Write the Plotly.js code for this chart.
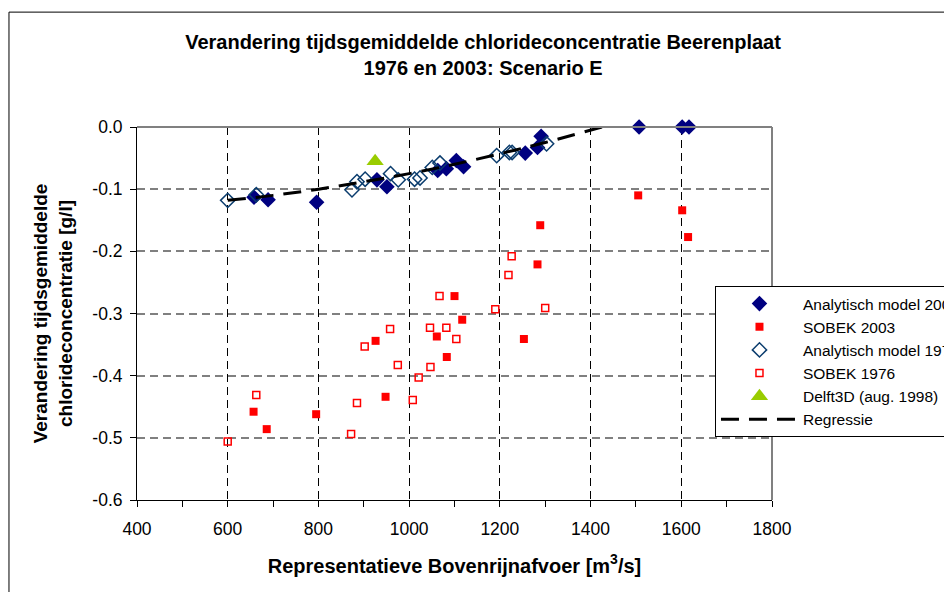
<!DOCTYPE html>
<html>
<head>
<meta charset="utf-8">
<script src="https://cdn.plot.ly/plotly-3.0.1.min.js"></script>
<style>
  html, body { margin: 0; padding: 0; background: #ffffff; }
  #chart { width: 944px; height: 592px; }
</style>
</head>
<body>
<div id="chart"></div>
<script>
// Representatieve Bovenrijnafvoer [m3/s] (x) and change in mean chloride concentration [g/l] (y)
const qAnalytisch2003 = [658, 689, 796, 929, 951, 1063, 1082, 1104, 1120, 1256, 1283, 1291, 1507, 1602, 1617];
const dAnalytisch2003 = [-0.113, -0.117, -0.121, -0.085, -0.096, -0.070, -0.067, -0.054, -0.064, -0.042, -0.033, -0.015, 0, 0, 0];

const qSobek2003 = [657, 686, 795, 926, 948, 1061, 1083, 1100, 1117, 1253, 1283, 1289, 1505, 1602, 1615];
const dSobek2003 = [-0.458, -0.486, -0.462, -0.344, -0.434, -0.337, -0.370, -0.272, -0.310, -0.341, -0.221, -0.158, -0.110, -0.134, -0.177];

const qAnalytisch1976 = [600, 663, 874, 885, 903, 959, 976, 1012, 1024, 1051, 1068, 1193, 1221, 1227, 1303];
const dAnalytisch1976 = [-0.118, -0.109, -0.101, -0.088, -0.084, -0.075, -0.085, -0.084, -0.082, -0.065, -0.058, -0.046, -0.041, -0.041, -0.027];

const qSobek1976 = [600, 663, 872, 885, 902, 958, 975, 1008, 1021, 1046, 1047, 1067, 1082, 1104, 1190, 1219, 1226, 1300];
const dSobek1976 = [-0.506, -0.431, -0.494, -0.444, -0.353, -0.325, -0.383, -0.439, -0.403, -0.323, -0.386, -0.272, -0.323, -0.341, -0.293, -0.238, -0.208, -0.291];

const qDelft3D = [925];
const dDelft3D = [-0.055];

const qRegressie = [600, 700, 800, 900, 1000, 1100, 1200, 1300, 1425];
const dRegressie = [-0.118, -0.110, -0.100, -0.088, -0.075, -0.060, -0.043, -0.025, 0];

const xTickVals = [400, 600, 800, 1000, 1200, 1400, 1600, 1800];
const xTickText = ['400', '600', '800', '1000', '1200', '1400', '1600', '1800'];
const yTickVals = [0, -0.1, -0.2, -0.3, -0.4, -0.5, -0.6];
const yTickText = ['0.0', '-0.1', '-0.2', '-0.3', '-0.4', '-0.5', '-0.6'];

const FONT = 'Liberation Sans, Arial, sans-serif';

const traces = [
  {
    name: 'Analytisch model 2003', x: qAnalytisch2003, y: dAnalytisch2003,
    type: 'scatter', mode: 'markers', cliponaxis: false,
    marker: { symbol: 'diamond', size: 12, color: '#000080', line: { width: 0 } }
  },
  {
    name: 'SOBEK 2003', x: qSobek2003, y: dSobek2003,
    type: 'scatter', mode: 'markers', cliponaxis: false,
    marker: { symbol: 'square', size: 8, color: '#ff0000', line: { width: 0 } }
  },
  {
    name: 'Analytisch model 1976', x: qAnalytisch1976, y: dAnalytisch1976,
    type: 'scatter', mode: 'markers', cliponaxis: false,
    marker: { symbol: 'diamond-open', size: 11, color: '#0b3d6e', line: { width: 1.5, color: '#0b3d6e' } }
  },
  {
    name: 'SOBEK 1976', x: qSobek1976, y: dSobek1976,
    type: 'scatter', mode: 'markers', cliponaxis: false,
    marker: { symbol: 'square-open', size: 7, color: '#ff0000', line: { width: 1.5, color: '#ff0000' } }
  },
  {
    name: 'Delft3D (aug. 1998)', x: qDelft3D, y: dDelft3D,
    type: 'scatter', mode: 'markers', cliponaxis: false,
    marker: { symbol: 'triangle-up', size: 15, color: '#99cc00', line: { width: 0 } }
  },
  {
    name: 'Regressie', x: qRegressie, y: dRegressie,
    type: 'scatter', mode: 'lines',
    line: { color: '#000000', width: 3, dash: '18px,10px', shape: 'spline' }
  }
];

const layout = {
  width: 944, height: 592,
  paper_bgcolor: '#ffffff', plot_bgcolor: '#ffffff',
  margin: { l: 137, r: 172, t: 127, b: 92, autoexpand: false },
  font: { family: FONT, color: '#000000' },
  title: {
    text: 'Verandering tijdsgemiddelde chlorideconcentratie Beerenplaat<br>1976 en 2003: Scenario E',
    font: { family: FONT, size: 20, weight: 'bold', color: '#000000' },
    xref: 'container', x: 0.5117, xanchor: 'center',
    yref: 'container', y: 0.9172, yanchor: 'top'
  },
  xaxis: {
    range: [400, 1800],
    tickmode: 'array', tickvals: xTickVals, ticktext: xTickText,
    ticks: 'outside', ticklen: 6, tickcolor: '#000000', tickwidth: 1,
    ticklabelstandoff: 7,
    minor: { tickmode: 'linear', tick0: 400, dtick: 100, ticks: 'outside', ticklen: 6, tickcolor: '#000000', showgrid: false },
    tickfont: { family: FONT, size: 17.5, color: '#000000' },
    showline: true, linecolor: '#000000', linewidth: 1,
    showgrid: true, gridcolor: '#000000', gridwidth: 1, griddash: '8px,5px',
    zeroline: false,
    title: {
      text: 'Representatieve Bovenrijnafvoer [m<sup>3</sup>/s]',
      font: { family: FONT, size: 20, weight: 'bold', color: '#000000' },
      standoff: 20
    }
  },
  yaxis: {
    range: [-0.6, 0],
    tickmode: 'array', tickvals: yTickVals, ticktext: yTickText,
    ticks: 'outside', ticklen: 6, tickcolor: '#000000', tickwidth: 1,
    ticklabelstandoff: 4,
    tickfont: { family: FONT, size: 17.5, color: '#000000' },
    showline: true, linecolor: '#000000', linewidth: 1,
    showgrid: true, gridcolor: '#808080', gridwidth: 2, griddash: '8px,5px',
    zeroline: false,
    title: {
      text: 'Verandering tijdsgemiddelde<br>chlorideconcentratie [g/l]',
      font: { family: FONT, size: 19, weight: 'bold', color: '#000000' },
      standoff: 14
    }
  },
  legend: {
    x: 0.9102, xanchor: 'left', y: 0.5737, yanchor: 'top',
    bgcolor: '#ffffff', bordercolor: '#000000', borderwidth: 1,
    font: { family: FONT, size: 15.5, color: '#000000' },
    itemwidth: 77, tracegroupgap: 0
  },
  shapes: [
    // plot-area frame on the top and right sides
    { type: 'line', xref: 'paper', yref: 'paper', x0: 0, x1: 1, y0: 1, y1: 1, line: { color: '#808080', width: 2 }, layer: 'above' },
    { type: 'line', xref: 'paper', yref: 'paper', x0: 1, x1: 1, y0: 0, y1: 1, line: { color: '#808080', width: 2 }, layer: 'above' },
    // chart-area frame
    { type: 'rect', xref: 'paper', yref: 'paper', x0: -0.2016, x1: 1.6, y0: -0.4, y1: 1.308, line: { color: '#000000', width: 1 }, fillcolor: 'rgba(0,0,0,0)', layer: 'below' }
  ],
  showlegend: true
};

Plotly.newPlot('chart', traces, layout, { displayModeBar: false, staticPlot: true });
</script>
</body>
</html>
